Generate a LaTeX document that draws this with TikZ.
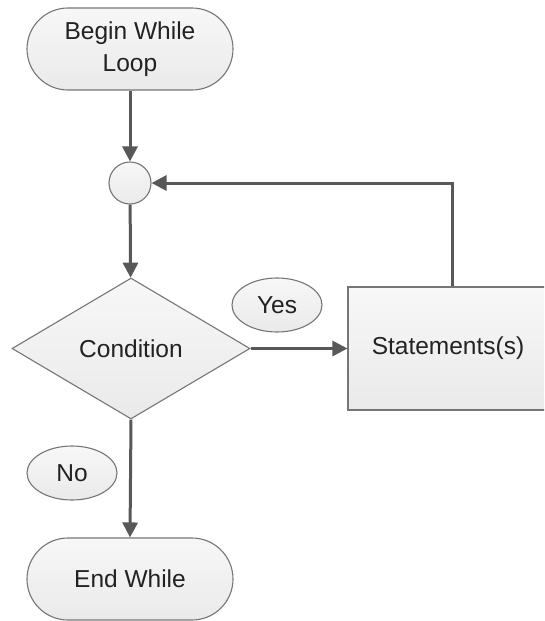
\documentclass[tikz,border=0pt]{standalone}
\usepackage{fontspec}
\setmainfont{Liberation Sans}
\usetikzlibrary{shapes.geometric,arrows.meta}
\definecolor{edgegray}{RGB}{118,118,118}
\definecolor{flowgray}{RGB}{88,88,88}
\definecolor{filltop}{RGB}{247,247,247}
\definecolor{fillbot}{RGB}{234,234,234}
\definecolor{txt}{RGB}{34,34,34}
\tikzset{
  shapebase/.style={draw=edgegray, line width=1.1pt, top color=filltop,
    bottom color=fillbot, text=txt, inner sep=0pt,
    font=\fontsize{24.5}{32}\selectfont, align=center},
  terminal/.style={shapebase, rectangle, rounded corners=41pt,
    minimum width=206pt, minimum height=82pt},
  junction/.style={shapebase, circle, minimum size=42pt},
  decision/.style={shapebase, diamond, aspect=1.7, minimum width=238pt, minimum height=141pt},
  process/.style={shapebase, rectangle, minimum width=208pt, minimum height=123pt},
  tag/.style={shapebase, ellipse, minimum width=90pt, minimum height=54pt},
  flow/.style={draw=flowgray, line width=3pt,
    -{Triangle[length=15pt,width=15pt]}}
}
\begin{document}
\begin{tikzpicture}[x=1pt,y=-1pt]
  \useasboundingbox (0,0) rectangle (544,621);
  \clip (0,0) rectangle (544,621);
  \fill[white] (0,0) rectangle (544,621);

  % shapes
  \node[terminal] (begin) at (130,49) {Begin While\\Loop};
  \node[junction] (join) at (130,183) {};
  \node[decision] (cond) at (131,348.5) {Condition};
  \node[process] (stmt) at (452,348.5) {};
  \node[text=txt, font=\fontsize{24.5}{32}\selectfont] (stmtlabel) at (448,348.5) {Statements(s)};
  \node[terminal] (done) at (130,579) {End While};

  % branch labels
  \node[tag] (yes) at (277,305) {Yes};
  \node[tag] (no) at (72,473) {No};

  % connectors
  \draw[flow] (begin) -- (join);
  \draw[flow] (join) -- (cond);
  \draw[flow] (cond.east) -- (stmt.west);
  \draw[flow] (stmt.north) |- (join.east);
  \draw[flow] (cond.south) -- (done.north);
\end{tikzpicture}
\end{document}
